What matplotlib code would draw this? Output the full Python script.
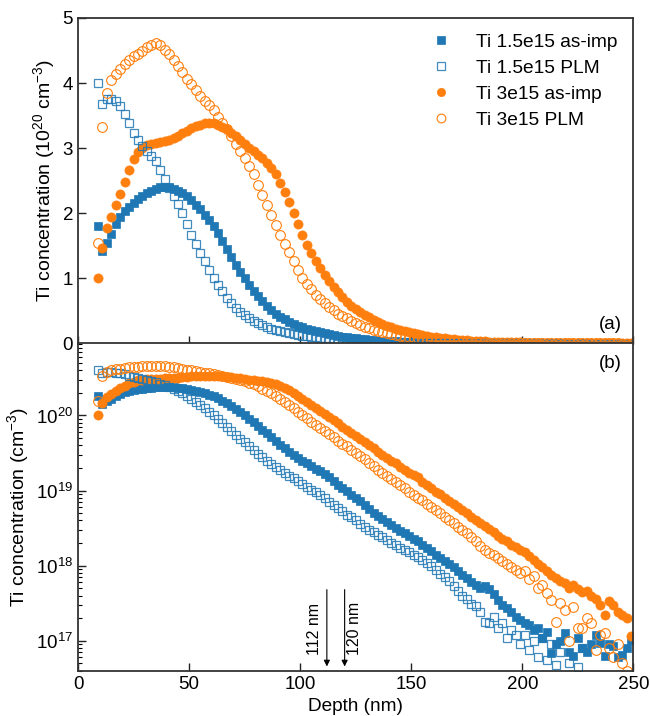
import numpy as np
import matplotlib
matplotlib.use('Agg')
import matplotlib.pyplot as plt
from matplotlib.ticker import LogLocator, NullFormatter

plt.rcParams['font.family'] = ['Liberation Sans', 'DejaVu Sans']
plt.rcParams['mathtext.fontset'] = 'custom'
plt.rcParams['mathtext.rm'] = 'Liberation Sans'
plt.rcParams['mathtext.it'] = 'Liberation Sans:italic'
plt.rcParams['font.size'] = 13.5

# depth grid (nm), one SIMS point every 2 nm
depth = np.arange(9, 250, 2)

# Ti concentration in units of 1e20 cm^-3
ti15_imp = [1.80, 1.42, 1.55, 1.68, 1.83, 1.95, 2.03, 2.10, 2.16, 2.22,
            2.27, 2.31, 2.35, 2.38, 2.40, 2.41, 2.40, 2.38, 2.35, 2.31,
            2.26, 2.20, 2.13, 2.06, 1.97, 1.89, 1.80, 1.69, 1.57, 1.45,
            1.33, 1.21, 1.10, 1.00, 0.90, 0.81, 0.73, 0.65, 0.58, 0.52,
            0.46, 0.41, 0.37, 0.33, 0.30, 0.27, 0.25, 0.23, 0.21, 0.195,
            0.18, 0.165, 0.15, 0.135, 0.12, 0.108, 0.098, 0.088, 0.080, 0.072,
            0.064, 0.057, 0.051, 0.046, 0.042, 0.038, 0.035, 0.032, 0.029, 0.027,
            0.025, 0.023, 0.021, 0.019, 0.017, 0.0155, 0.014, 0.0128, 0.0115, 0.0105,
            0.0095, 0.0085, 0.0076, 0.0068, 0.0061, 0.0055, 0.0051, 0.0053, 0.0049, 0.0042,
            0.0035, 0.0030, 0.0027, 0.0024, 0.0021, 0.0019, 0.0017, 0.0016, 0.0014, 0.0015,
            0.0011, 0.0013, 0.00068, 0.0009, 0.0010, 0.00126, 0.0007, 0.00062, 0.0011, 0.0008,
            0.00072, 0.0009, 0.0012, 0.00093, 0.00062, 0.0009, 0.00085, 0.0006, 0.00065, 0.0008,
            0.00102]

ti15_plm = [4.00, 3.68, 3.75, 3.76, 3.72, 3.65, 3.53, 3.38, 3.24, 3.13,
            3.04, 2.95, 2.88, 2.80, 2.66, 2.52, 2.39, 2.26, 2.14, 2.01,
            1.84, 1.67, 1.53, 1.39, 1.26, 1.13, 1.01, 0.90, 0.80, 0.70,
            0.62, 0.55, 0.49, 0.44, 0.39, 0.35, 0.31, 0.28, 0.25, 0.225,
            0.205, 0.188, 0.172, 0.158, 0.145, 0.133, 0.122, 0.112, 0.103, 0.096,
            0.088, 0.080, 0.071, 0.064, 0.058, 0.053, 0.048, 0.044, 0.040, 0.036,
            0.033, 0.030, 0.028, 0.026, 0.024, 0.022, 0.020, 0.019, 0.017, 0.016,
            0.015, 0.014, 0.013, 0.012, 0.011, 0.0098, 0.0088, 0.0078, 0.0070, 0.0062,
            0.0054, 0.0046, 0.0040, 0.0036, 0.0031, 0.0029, 0.0024, 0.0018, 0.0017, 0.0021,
            0.0015, 0.0017, 0.0011, 0.0014, 0.0012, 0.0009, 0.0012, 0.00075, 0.0010, 0.0006,
            0.0011, 0.00055, 0.0009, 0.00048, 0.0007, 0.0003, 0.0005, 0.0003, 0.00045, 0.0008,
            0.0002, 0.0003, 0.0002, 0.0002, 0.0003, 0.0002, 0.0002, 0.0002, 0.0002, 0.0002,
            0.0002]

ti30_imp = [1.00, 1.47, 1.78, 1.95, 2.13, 2.30, 2.48, 2.67, 2.83, 2.94,
            3.01, 3.05, 3.07, 3.08, 3.09, 3.11, 3.13, 3.16, 3.19, 3.23,
            3.27, 3.31, 3.34, 3.36, 3.38, 3.38, 3.38, 3.36, 3.33, 3.29,
            3.24, 3.18, 3.12, 3.06, 3.01, 2.95, 2.90, 2.85, 2.78, 2.70,
            2.60, 2.47, 2.33, 2.17, 2.00, 1.83, 1.67, 1.52, 1.39, 1.27,
            1.16, 1.06, 0.96, 0.87, 0.79, 0.71, 0.64, 0.58, 0.53, 0.48,
            0.44, 0.40, 0.365, 0.33, 0.30, 0.275, 0.25, 0.23, 0.205, 0.19,
            0.17, 0.16, 0.15, 0.13, 0.118, 0.107, 0.097, 0.089, 0.080, 0.073,
            0.067, 0.060, 0.055, 0.050, 0.045, 0.041, 0.037, 0.034, 0.031, 0.028,
            0.025, 0.023, 0.021, 0.019, 0.0175, 0.016, 0.015, 0.0135, 0.012, 0.0105,
            0.0095, 0.0085, 0.0075, 0.0068, 0.0062, 0.0058, 0.0051, 0.0055, 0.0049, 0.0045,
            0.0046, 0.0040, 0.0036, 0.0030, 0.0022, 0.0034, 0.0030, 0.0024, 0.0022, 0.0020,
            0.00115]

ti30_plm = [1.55, 3.32, 3.85, 4.05, 4.14, 4.22, 4.30, 4.36, 4.41, 4.45,
            4.50, 4.55, 4.58, 4.61, 4.58, 4.51, 4.44, 4.36, 4.27, 4.17,
            4.07, 3.99, 3.90, 3.80, 3.72, 3.66, 3.58, 3.48, 3.38, 3.29,
            3.18, 3.06, 2.96, 2.85, 2.73, 2.60, 2.44, 2.28, 2.12, 1.97,
            1.82, 1.66, 1.53, 1.40, 1.26, 1.13, 1.01, 0.92, 0.83, 0.75,
            0.68, 0.62, 0.56, 0.51, 0.46, 0.42, 0.39, 0.35, 0.32, 0.285,
            0.26, 0.232, 0.21, 0.19, 0.171, 0.157, 0.143, 0.131, 0.117, 0.108,
            0.097, 0.088, 0.080, 0.074, 0.067, 0.061, 0.055, 0.050, 0.045, 0.041,
            0.037, 0.033, 0.030, 0.027, 0.024, 0.021, 0.0185, 0.0163, 0.0149, 0.014,
            0.0125, 0.0115, 0.0105, 0.0095, 0.0088, 0.0080, 0.0086, 0.0066, 0.0072, 0.0050,
            0.0056, 0.0043, 0.0035, 0.0018, 0.0032, 0.0026, 0.00098, 0.0028, 0.0015, 0.0015,
            0.0020, 0.0017, 0.00076, 0.0012, 0.00126, 0.0008, 0.0006, 0.0009, 0.0005, 0.0004,
            0.0003]

labels = ['Ti 1.5e15 as-imp', 'Ti 1.5e15 PLM', 'Ti 3e15 as-imp', 'Ti 3e15 PLM']
arrow_depths = [112, 120]

blue = '#1f77b4'
orange = '#ff7f0e'
styles = [dict(marker='s', ms=6.0, color=blue, mec=blue, mew=0.5),
          dict(marker='s', ms=6.3, color=blue, mfc='none', mec=blue, mew=0.9, alpha=0.85),
          dict(marker='o', ms=6.6, color=orange, mec=orange, mew=0.5),
          dict(marker='o', ms=7.0, color=orange, mfc='none', mec=orange, mew=0.8)]
series = [ti15_imp, ti15_plm, ti30_imp, ti30_plm]
draw_order = [0, 2, 1, 3]

fig = plt.figure(figsize=(6.5, 7.16), dpi=100)
ax1 = fig.add_axes([0.12, 0.5202, 0.8546, 0.4547])
ax2 = fig.add_axes([0.12, 0.0633, 0.8546, 0.4570])

handles = [None] * 4
for i in draw_order:
    y = np.array(series[i])
    h, = ax1.plot(depth, y, ls='none', label=labels[i], **styles[i])
    ax2.plot(depth, y * 1e20, ls='none', **styles[i])
    handles[i] = h

# (a) linear
ax1.set_xlim(0, 250)
ax1.set_ylim(0, 5)
ax1.set_yticks(range(6))
ax1.set_xticks(range(0, 251, 50))
ax1.tick_params(labelbottom=False)
ax1.set_ylabel('Ti concentration (10$^{20}$ cm$^{-3}$)', fontsize=14)
ax1.text(0.958, 0.06, '(a)', transform=ax1.transAxes, ha='center', va='center',
         fontsize=13.5)
ax1.legend(handles=handles, loc='upper right', bbox_to_anchor=(0.972, 0.952),
           frameon=False, borderpad=0, borderaxespad=0, handletextpad=1.1,
           labelspacing=0.45, handlelength=1.5, markerscale=0.9, fontsize=13.8)

# (b) log
ax2.set_yscale('log')
ax2.set_xlim(0, 250)
ax2.set_ylim(4e16, 9.1e20)
ax2.set_xticks(range(0, 251, 50))
ax2.yaxis.set_major_locator(LogLocator(base=10))
ax2.yaxis.set_minor_locator(LogLocator(base=10, subs=np.arange(2, 10)))
ax2.yaxis.set_minor_formatter(NullFormatter())
ax2.set_xlabel('Depth (nm)', fontsize=13.7)
ax2.set_ylabel('Ti concentration (cm$^{-3}$)', fontsize=14)
ax2.text(0.958, 0.94, '(b)', transform=ax2.transAxes, ha='center', va='center',
         fontsize=13.5)

for d, dx in zip(arrow_depths, [-5.4, 4.4]):
    ax2.annotate('', xy=(d, 4.55e16), xytext=(d, 4.8e17),
                 arrowprops=dict(arrowstyle='-|>', color='k', lw=0.8,
                                 mutation_scale=9, shrinkA=0, shrinkB=0))
    ax2.text(d + dx, 1.45e17, '%d nm' % d, rotation=90, ha='center',
             va='center', fontsize=11.5)

for ax in (ax1, ax2):
    ax.tick_params(which='major', direction='in', length=6, width=1.0, colors='#222222')
    ax.tick_params(which='minor', direction='in', length=3, width=0.8)
    ax.tick_params(axis='both', labelcolor='black', labelsize=13.5)
    for s in ax.spines.values():
        s.set_color('#333333')
        s.set_linewidth(1.3)

fig.savefig('out.png', dpi=100)
